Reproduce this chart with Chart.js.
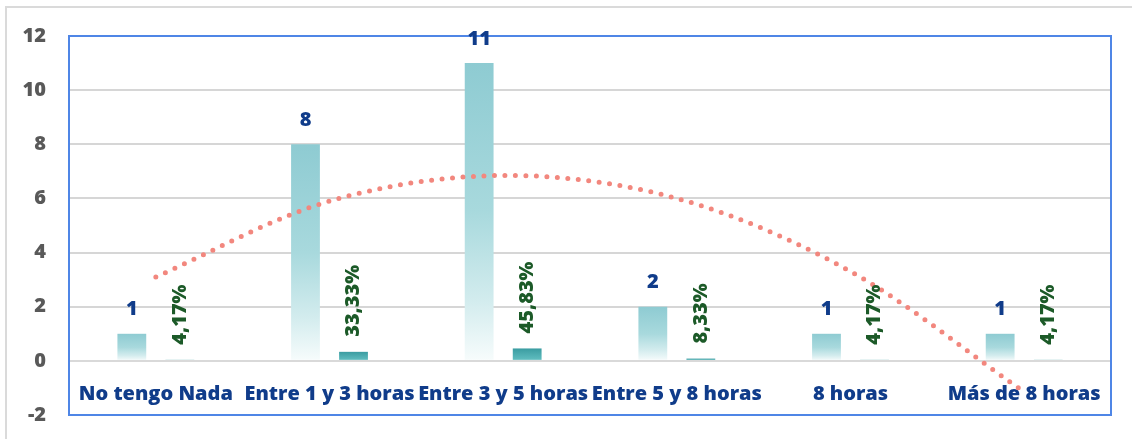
<!DOCTYPE html>
<html>
  <head>
    <meta charset="utf-8" />
    <title>Horas</title>
    <script src="https://cdn.jsdelivr.net/npm/chart.js"></script>
    <style>
      * {
        box-sizing: border-box;
        margin: 0;
        padding: 0;
      }
      body {
        width: 1132px;
        height: 439px;
        overflow: hidden;
        background: #fff;
      }
      /* marco gris del grafico */
      #frame {
        position: absolute;
        left: 5px;
        top: 6px;
        width: 1200px;
        height: 500px;
        border-top: 2px solid #dadada;
        border-left: 2px solid #dadada;
      }
      #box {
        position: absolute;
        left: 0;
        top: 0;
        width: 1132px;
        height: 450px;
      }
    </style>
  </head>
  <body>
    <div id="frame"></div>
    <div id="box"><canvas id="horas"></canvas></div>

    <script>
      const categorias = [
        "No tengo Nada",
        "Entre 1 y 3 horas",
        "Entre 3 y 5 horas",
        "Entre 5 y 8 horas",
        "8 horas",
        "Más de 8 horas",
      ];
      const respuestas = [1, 8, 11, 2, 1, 1];
      const porcentajes = [0.0417, 0.3333, 0.4583, 0.0833, 0.0417, 0.0417];
      // linea de tendencia (polinomica), valor en cada categoria
      const tendencia = [3.1, 5.9, 6.85, 6.0, 3.3, -1.15];
      const yTicks = [-2, 0, 2, 4, 6, 8, 10, 12];

      const FONT = '"Open Sans", "Noto Sans", sans-serif';
      const PESO = 800;
      const AZUL = "#103c8a";
      const VERDE = "#1c5a28";

      function degradado(chart, valor, stops, plano) {
        const y = chart.scales.y;
        if (!y) return plano;
        const top = y.getPixelForValue(valor);
        const base = y.getPixelForValue(0);
        if (!isFinite(top) || !isFinite(base) || top === base) return plano;
        const g = chart.ctx.createLinearGradient(0, top, 0, base);
        stops.forEach(([p, c]) => g.addColorStop(p, c));
        return g;
      }

      function pct(v) {
        return (v * 100).toFixed(2).replace(".", ",") + "%";
      }

      // borde azul del area de trazado
      const marco = {
        id: "marco",
        beforeDatasetsDraw(chart) {
          const { ctx, chartArea: a } = chart;
          ctx.save();
          ctx.strokeStyle = "#4f86e6";
          ctx.lineWidth = 2;
          ctx.strokeRect(a.left, a.top, a.right - a.left, a.bottom - a.top);
          ctx.restore();
        },
      };

      // etiquetas de datos sobre las barras
      const etiquetas = {
        id: "etiquetas",
        afterDatasetsDraw(chart) {
          const ctx = chart.ctx;
          ctx.save();
          ctx.font = PESO + " 20px " + FONT;
          ctx.fillStyle = AZUL;
          ctx.textAlign = "center";
          ctx.textBaseline = "middle";
          chart.getDatasetMeta(0).data.forEach((b, i) => {
            ctx.fillText(String(respuestas[i]), b.x, b.y - 24);
          });
          ctx.fillStyle = VERDE;
          ctx.textAlign = "left";
          chart.getDatasetMeta(1).data.forEach((b, i) => {
            ctx.save();
            ctx.translate(b.x, b.y - 15);
            ctx.rotate(-Math.PI / 2);
            ctx.fillText(pct(porcentajes[i]), 0, 0);
            ctx.restore();
          });
          ctx.restore();
        },
      };

      new Chart(document.getElementById("horas"), {
        type: "bar",
        data: {
          labels: categorias,
          datasets: [
            {
              label: "Respuestas",
              data: respuestas,
              order: 1,
              backgroundColor(c) {
                if (c.dataIndex === undefined) return "#8fcdd4";
                return degradado(
                  c.chart,
                  respuestas[c.dataIndex],
                  [
                    [0, "#8ecbd2"],
                    [0.5, "#a8d9dd"],
                    [0.8, "#d3ecee"],
                    [1, "#f7fcfc"],
                  ],
                  "#8fcdd4"
                );
              },
              categoryPercentage: 0.553,
              barPercentage: 0.6,
            },
            {
              label: "Porcentaje",
              data: porcentajes,
              order: 2,
              backgroundColor(c) {
                if (c.dataIndex === undefined) return "#45a8ab";
                return degradado(
                  c.chart,
                  porcentajes[c.dataIndex],
                  [
                    [0, "#3a9ca1"],
                    [1, "#63c0c2"],
                  ],
                  "#45a8ab"
                );
              },
              categoryPercentage: 0.553,
              barPercentage: 0.6,
            },
            {
              type: "line",
              label: "Tendencia",
              data: tendencia,
              order: 0,
              borderColor: "#f2877e",
              borderWidth: 5,
              borderDash: [0, 10.5],
              borderCapStyle: "round",
              tension: 0.33,
              pointRadius: 0,
              fill: false,
            },
          ],
        },
        options: {
          responsive: true,
          maintainAspectRatio: false,
          animation: false,
          layout: {
            padding: { left: 5, top: 36, right: 21, bottom: 0 },
          },
          plugins: {
            legend: { display: false },
            tooltip: { enabled: false },
          },
          scales: {
            x: {
              position: { y: 0 },
              grid: { display: false, drawTicks: false },
              border: { color: "#d9d9d9", width: 2 },
              ticks: {
                autoSkip: false,
                maxRotation: 0,
                padding: 21,
                color: AZUL,
                font: { family: FONT, size: 20, weight: PESO },
              },
            },
            y: {
              min: -2,
              max: 12,
              afterFit(s) {
                s.width = 64;
              },
              afterBuildTicks(s) {
                s.ticks = yTicks.map((v) => ({ value: v }));
              },
              grid: { color: "#d6d6d6", lineWidth: 2, drawTicks: false },
              border: { display: false },
              ticks: {
                padding: 23,
                color: "#595959",
                font: { family: FONT, size: 20, weight: PESO },
              },
            },
          },
        },
        plugins: [marco, etiquetas],
      });
    </script>
  </body>
</html>
